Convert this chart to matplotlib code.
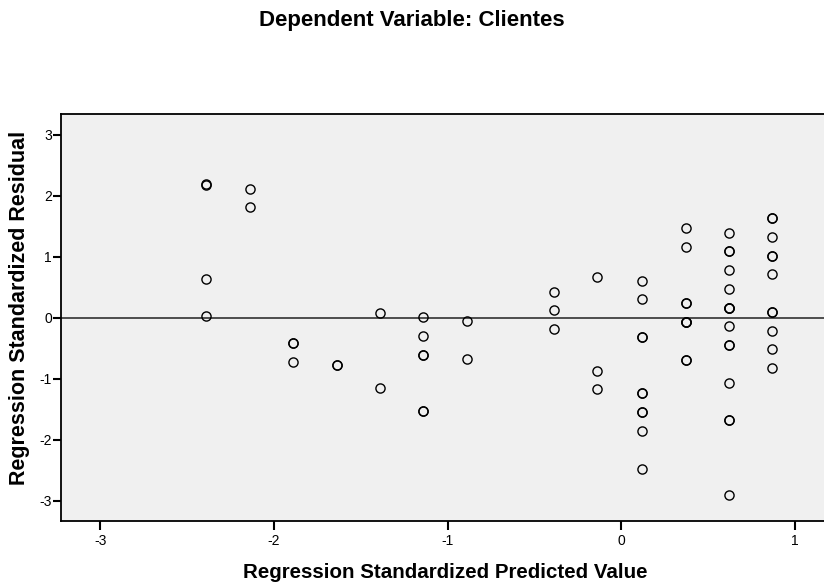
import matplotlib
matplotlib.use("Agg")
import matplotlib.pyplot as plt

plt.rcParams['font.family'] = ['Liberation Sans', 'DejaVu Sans']
plt.rcParams['axes.unicode_minus'] = False

# predicted value columns and the residuals found in each one
pred_cols = [-2.39, -2.14, -1.89, -1.64, -1.39, -1.14, -0.89,
             -0.39, -0.14, 0.12, 0.37, 0.62, 0.87]
resid_cols = [
    [2.19, 2.18, 0.64, 0.03],
    [2.11, 1.81],
    [-0.41, -0.41, -0.72],
    [-0.78, -0.78],
    [0.08, -1.15],
    [0.01, -0.30, -0.61, -0.61, -1.53, -1.53],
    [-0.05, -0.67],
    [0.43, 0.12, -0.19],
    [0.67, -0.87, -1.17],
    [0.61, 0.30, -0.32, -0.32, -1.24, -1.24, -1.55, -1.55, -1.85, -2.47],
    [1.47, 1.16, 0.24, 0.24, -0.07, -0.07, -0.07, -0.69, -0.69],
    [1.39, 1.09, 1.09, 0.78, 0.47, 0.16, 0.16, 0.16, -0.14, -0.45, -0.45,
     -1.07, -1.68, -1.68, -2.91],
    [1.64, 1.64, 1.33, 1.02, 1.02, 0.72, 0.10, 0.10, -0.21, -0.51, -0.82],
]

x_ticks = [-3, -2, -1, 0, 1]
y_ticks = [-3, -2, -1, 0, 1, 2, 3]

xs = []
ys = []
for px, col in zip(pred_cols, resid_cols):
    for r in col:
        xs.append(px)
        ys.append(r)

fig = plt.figure(figsize=(8.24, 5.88), dpi=100)
ax = fig.add_axes([61/824, 67/588, 767/824, 407/588])
ax.set_facecolor('#f0f0f0')

ax.axhline(0, color='#404040', linewidth=1.3, zorder=1)
ax.plot(xs, ys, linestyle='none', marker='o', markersize=6.6,
        markerfacecolor='none', markeredgecolor='black',
        markeredgewidth=1.0, zorder=3)

ax.set_xlim(-3.227, 1.19)
ax.set_ylim(-3.33, 3.34)
ax.set_xticks(x_ticks)
ax.set_yticks(y_ticks)
ax.tick_params(axis='both', direction='out', length=6.5, width=1.5,
               labelsize=10, color='black')
ax.tick_params(axis='x', pad=3)
ax.tick_params(axis='y', length=6, pad=0.5)

for side in ['left', 'bottom', 'top']:
    ax.spines[side].set_linewidth(1.3)
ax.spines['right'].set_visible(False)

# axis titles placed by hand in figure pixels
fig.text(445/824, 1 - 572/588, "Regression Standardized Predicted Value",
         ha='center', va='center', fontsize=14.8, fontweight='bold')
fig.text(20/824, 1 - 308/588, "Regression Standardized Residual",
         ha='center', va='center', rotation=90, fontsize=15.5,
         fontweight='bold')

fig.text(0.5, 1 - 26/588, "Dependent Variable: Clientes", ha='center',
         va='baseline', fontsize=16, fontweight='bold')

fig.savefig("out.png", dpi=100)
